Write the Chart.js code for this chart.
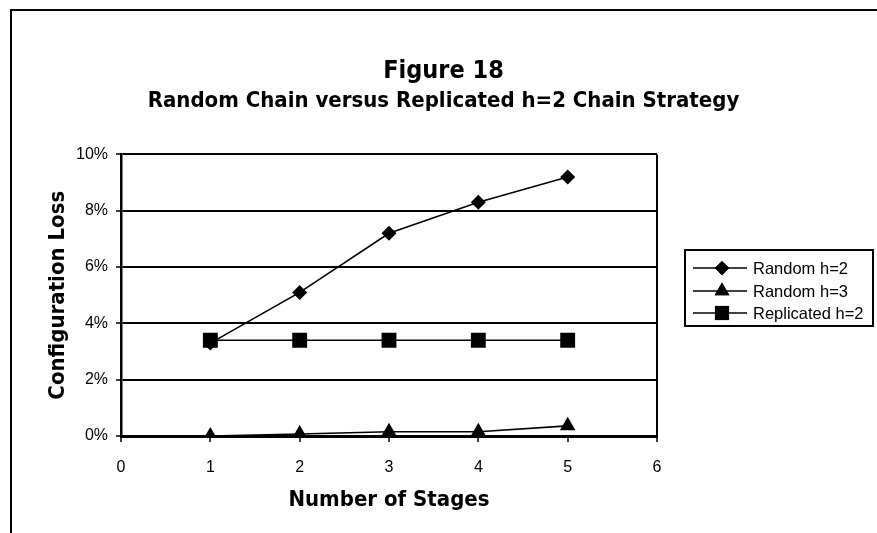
<!DOCTYPE html>
<html>
<head>
<meta charset="utf-8">
<script src="https://cdn.jsdelivr.net/npm/chart.js@4/dist/chart.umd.min.js"></script>
<style>
  html, body { margin: 0; padding: 0; background: #fff; }
  #wrap { width: 877px; height: 533px; }
</style>
</head>
<body>
<div id="wrap"><canvas id="lossChart" width="877" height="533"></canvas></div>
<script>
// values
const stages = [1, 2, 3, 4, 5];
const randomH2 = [0.033, 0.051, 0.072, 0.083, 0.092];
const randomH3 = [0.0, 0.0007, 0.0015, 0.0015, 0.0036];
const replicatedH2 = [0.034, 0.034, 0.034, 0.034, 0.034];
const seriesNames = ['Random h=2', 'Random h=3', 'Replicated h=2'];
const pointStyles = ['rectRot', 'triangle', 'rect'];
const pointSizes = [7.5, 9, 10.5];

const tickFont = { family: "'Liberation Sans', Arial, sans-serif", size: 16 };
const boldFont = "'DejaVu Sans Condensed', Tahoma, 'DejaVu Sans', sans-serif";

function toPoints(ys) {
    return stages.map((s, i) => ({ x: s, y: ys[i] }));
}

const datasets = [randomH2, randomH3, replicatedH2].map((ys, i) => ({
    label: seriesNames[i],
    data: toPoints(ys),
    borderColor: '#000',
    backgroundColor: '#000',
    borderWidth: 1.6,
    pointStyle: pointStyles[i],
    pointRadius: pointSizes[i],
    pointBorderWidth: 0,
    pointBackgroundColor: '#000',
    tension: 0
}));

// outer frame (top + left only, like the cropped original)
const framePlugin = {
    id: 'frame',
    beforeDraw(chart) {
        const ctx = chart.ctx;
        ctx.save();
        ctx.strokeStyle = '#000';
        ctx.lineWidth = 2;
        ctx.beginPath();
        ctx.moveTo(11, 533);
        ctx.lineTo(11, 10);
        ctx.lineTo(877, 10);
        ctx.stroke();
        ctx.restore();
    }
};

// legend box with line + marker per series
const lineLegend = {
    id: 'lineLegend',
    afterDraw(chart) {
        const ctx = chart.ctx;
        const box = { x: 685, y: 250, w: 188, h: 76 };
        const rows = [18, 41, 63];
        ctx.save();
        ctx.fillStyle = '#fff';
        ctx.fillRect(box.x, box.y, box.w, box.h);
        ctx.strokeStyle = '#000';
        ctx.lineWidth = 2;
        ctx.strokeRect(box.x, box.y, box.w, box.h);
        ctx.font = "16.5px 'Liberation Sans', Arial, sans-serif";
        ctx.textBaseline = 'middle';
        ctx.textAlign = 'left';
        chart.data.datasets.forEach((ds, i) => {
            const y = box.y + rows[i];
            ctx.strokeStyle = '#000';
            ctx.lineWidth = 1.6;
            ctx.beginPath();
            ctx.moveTo(box.x + 8, y);
            ctx.lineTo(box.x + 62, y);
            ctx.stroke();
            ctx.fillStyle = '#000';
            Chart.helpers.drawPoint(ctx, {
                pointStyle: ds.pointStyle,
                radius: ds.pointRadius * 0.95,
                rotation: 0,
                borderWidth: 0
            }, box.x + 37, y);
            ctx.fill();
            ctx.fillText(ds.label, box.x + 68, y + 1);
        });
        ctx.restore();
    }
};

const ctx = document.getElementById('lossChart').getContext('2d');
new Chart(ctx, {
    type: 'line',
    data: { datasets: datasets },
    options: {
        responsive: false,
        animation: false,
        layout: { padding: { left: 15, right: 5, top: 0, bottom: 0 } },
        plugins: {
            legend: { display: false },
            tooltip: { enabled: false },
            title: {
                display: true,
                text: 'Figure 18',
                color: '#000',
                font: { family: boldFont, size: 25, weight: 'bold' },
                padding: { top: 56, bottom: 2 }
            },
            subtitle: {
                display: true,
                text: 'Random Chain versus Replicated h=2 Chain Strategy',
                color: '#000',
                font: { family: boldFont, size: 22, weight: 'bold' },
                padding: { top: 0, bottom: 40 }
            }
        },
        scales: {
            x: {
                type: 'linear',
                min: 0,
                max: 6,
                ticks: { stepSize: 1, color: '#000', font: tickFont, padding: 16 },
                grid: {
                    color: c => (c.tick && c.tick.value === 6 ? '#000' : 'rgba(0,0,0,0)'),
                    lineWidth: 2,
                    tickColor: '#000',
                    tickLength: 6,
                    tickWidth: 1.5
                },
                border: { color: '#000', width: 3 },
                title: {
                    display: true,
                    text: 'Number of Stages',
                    color: '#000',
                    font: { family: boldFont, size: 22, weight: 'bold' },
                    padding: { top: 0, bottom: 20 }
                },
                afterFit(scale) { scale.height = 97; }
            },
            y: {
                min: 0,
                max: 0.10,
                ticks: {
                    stepSize: 0.02,
                    color: '#000',
                    font: tickFont,
                    padding: 8,
                    callback: v => Math.round(v * 100) + '%'
                },
                grid: {
                    color: '#000',
                    lineWidth: 2,
                    tickLength: 5,
                    tickWidth: 1.5
                },
                border: { color: '#000', width: 2.5 },
                title: {
                    display: true,
                    text: 'Configuration Loss',
                    color: '#000',
                    font: { family: boldFont, size: 22, weight: 'bold' },
                    padding: { top: 30, bottom: 0 }
                },
                afterFit(scale) { scale.width = 106; }
            },
            spacer: {
                position: 'right',
                display: true,
                grid: { display: false, drawTicks: false },
                border: { display: false },
                ticks: { display: false },
                afterFit(scale) { scale.width = 215; }
            }
        }
    },
    plugins: [framePlugin, lineLegend]
});
</script>
</body>
</html>
